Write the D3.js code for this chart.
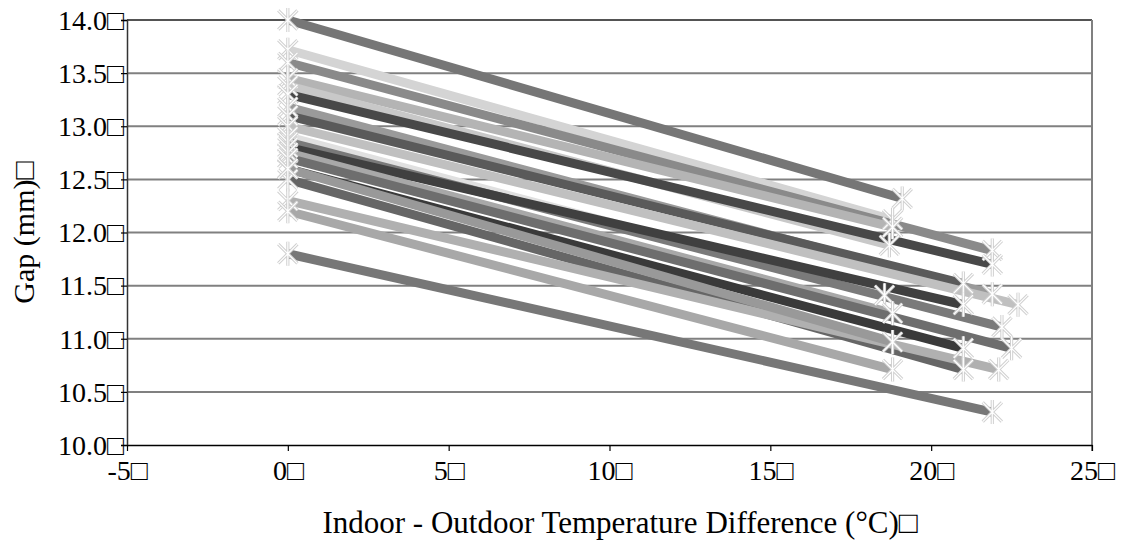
<!DOCTYPE html>
<html>
<head>
<meta charset="utf-8">
<script src="https://cdn.jsdelivr.net/npm/d3@7"></script>
<style>
  html, body { margin: 0; padding: 0; background: #fff; }
  svg { display: block; }
  svg text { font-family: 'Times New Roman', 'Liberation Serif', 'DejaVu Serif', Times, serif !important; }
</style>
</head>
<body>
<svg id="chart" width="1133" height="546"></svg>
<script>
// Measured gap at zero temperature difference and at the winter reading, one line per joint
const startGap   = [14.00, 13.72, 13.60, 13.45, 13.38, 13.30, 13.18, 13.10, 13.00, 12.90, 12.85, 12.80, 12.75, 12.70, 12.60, 12.50, 12.30, 12.20, 12.60, 11.80];
const endTemp    = [19.1, 18.8, 21.9, 18.8, 18.7, 21.9, 21.9, 21.0, 22.7, 18.55, 22.2, 21.0, 18.8, 22.5, 21.0, 21.0, 22.1, 18.8, 18.8, 21.9];
const endGap     = [12.32, 12.12, 11.83, 12.05, 11.88, 11.70, 11.42, 11.52, 11.32, 11.41, 11.11, 11.32, 11.24, 10.91, 10.91, 10.71, 10.71, 10.71, 10.97, 10.31];
const lineShade  = ["#767676", "#d4d4d4", "#8a8a8a", "#b4b4b4", "#c8c8c8", "#484848", "#9a9a9a", "#5a5a5a", "#c0c0c0", "#e0e0e0",
                    "#7a7a7a", "#404040", "#a8a8a8", "#6e6e6e", "#3a3a3a", "#666666", "#b0b0b0", "#a8a8a8", "#999999", "#777777"];

const xTicks = [-5, 0, 5, 10, 15, 20, 25];
const yTicks = [10.0, 10.5, 11.0, 11.5, 12.0, 12.5, 13.0, 13.5, 14.0];
const xTitle = "Indoor - Outdoor Temperature Difference (°C)□";
const yTitle = "Gap (mm)□";

const svg = d3.select("#chart");
const plotLeft = 127, plotRight = 1092, plotTop = 20, plotBottom = 445;

const x = d3.scaleLinear().domain([-5, 25]).range([plotLeft, plotRight]);
const y = d3.scaleLinear().domain([10, 14]).range([plotBottom, plotTop]);

// horizontal gridlines
svg.append("g").selectAll("line")
  .data(yTicks.filter(v => v > 10 && v < 14))
  .join("line")
  .attr("x1", plotLeft).attr("x2", plotRight)
  .attr("y1", d => y(d)).attr("y2", d => y(d))
  .attr("stroke", "#808080").attr("stroke-width", 2);

// top edge and right edge of the plot area
svg.append("line").attr("x1", plotLeft).attr("x2", plotRight).attr("y1", y(14)).attr("y2", y(14))
  .attr("stroke", "#1a1a1a").attr("stroke-width", 1.5);
svg.append("line").attr("x1", plotRight).attr("x2", plotRight).attr("y1", plotTop).attr("y2", plotBottom + 6)
  .attr("stroke", "#808080").attr("stroke-width", 2);

// y axis
const yAxis = svg.append("g").attr("transform", `translate(${plotLeft},0)`)
  .call(d3.axisLeft(y).tickValues(yTicks).tickSize(6).tickFormat(d => d3.format(".1f")(d) + "□"));
yAxis.select(".domain").attr("stroke", "#333").attr("stroke-width", 1.5);
yAxis.selectAll(".tick line").attr("stroke", "#000").attr("stroke-width", 1.2);
yAxis.selectAll("text").attr("font-size", 28).attr("x", -3).attr("dy", "0.33em").attr("fill", "#000");

// x axis
const xAxis = svg.append("g").attr("transform", `translate(0,${plotBottom})`)
  .call(d3.axisBottom(x).tickValues(xTicks).tickSize(6).tickSizeOuter(0).tickFormat(d => d + "□"));
xAxis.select(".domain").attr("stroke", "#000").attr("stroke-width", 1.5);
xAxis.selectAll(".tick line").attr("stroke", "#000").attr("stroke-width", 1.2);
xAxis.selectAll("text").attr("font-size", 28).attr("y", 35).attr("dy", 0).attr("fill", "#000");

// axis titles
svg.append("text").attr("x", 620).attr("y", 533)
  .attr("text-anchor", "middle").attr("font-size", 31).text(xTitle);
svg.append("text").attr("transform", `translate(34,${(plotTop + plotBottom) / 2}) rotate(-90)`)
  .attr("text-anchor", "middle").attr("font-size", 30).text(yTitle);

// one line per joint, from the zero-difference reading to the winter reading
const joints = startGap.map((g, i) => ({ x0: 0, y0: g, x1: endTemp[i], y1: endGap[i], c: lineShade[i] }));

svg.append("g").selectAll("line")
  .data(joints)
  .join("line")
  .attr("x1", d => x(d.x0)).attr("y1", d => y(d.y0))
  .attr("x2", d => x(d.x1)).attr("y2", d => y(d.y1))
  .attr("stroke", d => d.c).attr("stroke-width", 9).attr("stroke-linecap", "butt");

// star markers at both readings
const pts = joints.flatMap(d => [[d.x0, d.y0], [d.x1, d.y1]]);
const r = 12;
const star = `M0,${-r}L0,${r}M${-r * 0.8},${-r * 0.8}L${r * 0.8},${r * 0.8}M${-r * 0.8},${r * 0.8}L${r * 0.8},${-r * 0.8}`;
const mk = svg.append("g").selectAll("g")
  .data(pts)
  .join("g")
  .attr("transform", d => `translate(${x(d[0])},${y(d[1])})`);
mk.append("path").attr("d", star).attr("fill", "none").attr("stroke", "#d0d0d0").attr("stroke-width", 3.2);
mk.append("path").attr("d", star).attr("fill", "none").attr("stroke", "#ffffff").attr("stroke-width", 1.2);
</script>
</body>
</html>
